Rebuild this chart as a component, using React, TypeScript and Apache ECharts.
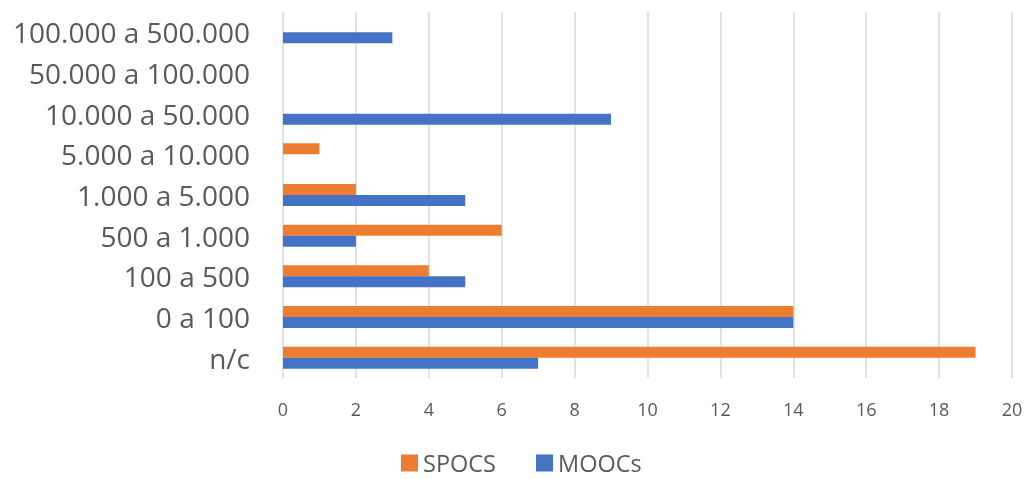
import React, { useEffect, useRef } from "react";
import * as echarts from "echarts";

const categories = [
  "n/c",
  "0 a 100",
  "100 a 500",
  "500 a 1.000",
  "1.000 a 5.000",
  "5.000 a 10.000",
  "10.000 a 50.000",
  "50.000 a 100.000",
  "100.000 a 500.000",
];
const spocs = [19, 14, 4, 6, 2, 1, 0, 0, 0];
const moocs = [7, 14, 5, 2, 5, 0, 9, 0, 3];

const FONT = "Open Sans";

export default function App() {
  const ref = useRef<HTMLDivElement>(null);
  useEffect(() => {
    const chart = echarts.init(ref.current!, null, { renderer: "svg" });
    chart.setOption({
      animation: false,
      grid: { left: 283, right: 13, top: 12, bottom: 101, containLabel: false, outerBoundsMode: "none" },
      legend: {
        top: 451,
        left: 401,
        padding: 0,
        itemWidth: 17,
        itemHeight: 17,
        itemGap: 40,
        itemStyle: { borderWidth: 0 },
        icon: "rect",
        textStyle: { fontFamily: FONT, fontSize: 23.5, lineHeight: 24, color: "#595959" },
        data: ["SPOCS", "MOOCs"],
      },
      xAxis: {
        type: "value",
        min: 0,
        max: 20,
        interval: 2,
        axisLine: { show: false },
        axisTick: { show: false },
        axisLabel: { fontFamily: FONT, fontSize: 18, color: "#595959", margin: 22 },
        splitLine: { lineStyle: { color: "#D9D9D9", width: 1.5 } },
      },
      yAxis: {
        type: "category",
        data: categories,
        axisLine: { show: false },
        axisTick: { show: false },
        axisLabel: { fontFamily: FONT, fontSize: 28, color: "#595959", margin: 33 },
      },
      series: [
        {
          name: "SPOCS",
          type: "bar",
          data: spocs,
          barWidth: 11,
          barGap: "0%",
          itemStyle: { color: "#ED7D31" },
        },
        {
          name: "MOOCs",
          type: "bar",
          data: moocs,
          barWidth: 11,
          barGap: "0%",
          itemStyle: { color: "#4472C4" },
        },
      ],
    });
    return () => chart.dispose();
  }, []);
  return (
    <div
      ref={ref}
      style={{ position: "fixed", left: 0, top: 0, width: 1025, height: 479 }}
    />
  );
}
